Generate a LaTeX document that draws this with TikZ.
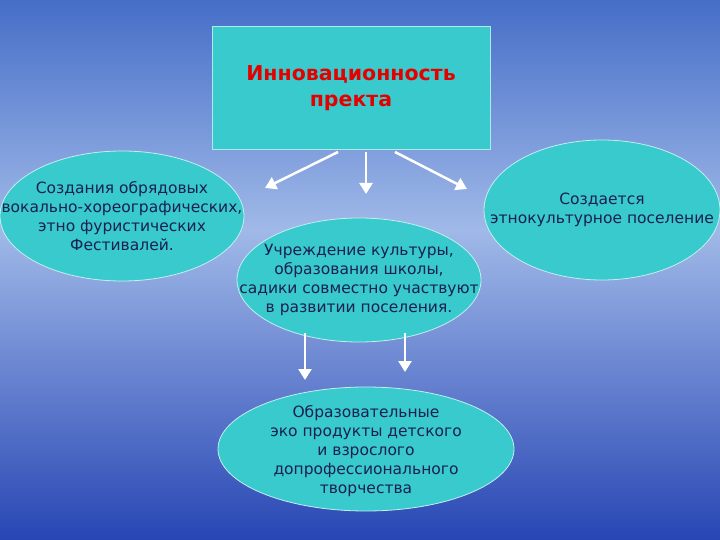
\documentclass[tikz,border=0pt]{standalone}
\usepackage{fontspec}
\setmainfont{DejaVu Sans}
\usetikzlibrary{shapes.geometric,arrows.meta}
\definecolor{teal1}{HTML}{38CACC}
\definecolor{txt}{HTML}{1A2050}
\begin{document}
\begin{tikzpicture}[x=1pt,y=-1pt,
  ell/.style={ellipse,fill=teal1,draw=white!70!teal1,line width=0.8pt,inner sep=0pt},
  lbl/.style={text=txt,font=\fontsize{15.5}{19}\selectfont,align=center,inner sep=0pt},
  arr/.style={draw=white,line width=2.5pt,-{Triangle[length=11pt,width=13pt]}}]
\shade[top color={rgb,255:red,70;green,110;blue,200}, bottom color={rgb,255:red,160;green,185;blue,232}] (0,0) rectangle (720,230);
\shade[top color={rgb,255:red,160;green,185;blue,232}, bottom color={rgb,255:red,40;green,70;blue,180}] (0,230) rectangle (720,540);
\useasboundingbox (0,0) rectangle (720,540);
\node[rectangle,fill=teal1,draw=white!60!teal1,minimum width=278pt,minimum height=123pt,text=red!90!black,font=\bfseries\fontsize{20.5}{26}\selectfont,align=center] (top) at (351,88) {Инновационность\\пректа};
\node[ell,minimum width=244pt,minimum height=130pt] (l) at (122,216) {};
\node[lbl] (lt) at (l.center) {Создания обрядовых\\вокально-хореографических,\\этно фуристических\\Фестивалей.};
\node[ell,minimum width=236pt,minimum height=140pt] (r) at (602,210) {};
\node[lbl] (rt) at (r.center) {Создается\\этнокультурное поселение};
\node[ell,minimum width=244pt,minimum height=124pt] (m) at (359,280) {};
\node[lbl] (mt) at (m.center) {Учреждение культуры,\\образования школы,\\садики совместно участвуют\\в развитии поселения.};
\node[ell,minimum width=296pt,minimum height=124pt] (b) at (366,449) {};
\node[lbl] (bt) at (366,451) {Образовательные\\эко продукты детского\\и взрослого\\допрофессионального\\творчества};
\coordinate (t1) at (338,152); \coordinate (e1) at (265,188);
\coordinate (t2) at (366,152); \coordinate (e2) at (366,194);
\coordinate (t3) at (395,152); \coordinate (e3) at (467,189);
\coordinate (m1) at (305,333); \coordinate (f1) at (305,380);
\coordinate (m2) at (405,333); \coordinate (f2) at (405,372);
\draw[arr] (t1) -- (e1);
\draw[arr] (t2) -- (e2);
\draw[arr] (t3) -- (e3);
\draw[arr] (m1) -- (f1);
\draw[arr] (m2) -- (f2);
\end{tikzpicture}
\end{document}
